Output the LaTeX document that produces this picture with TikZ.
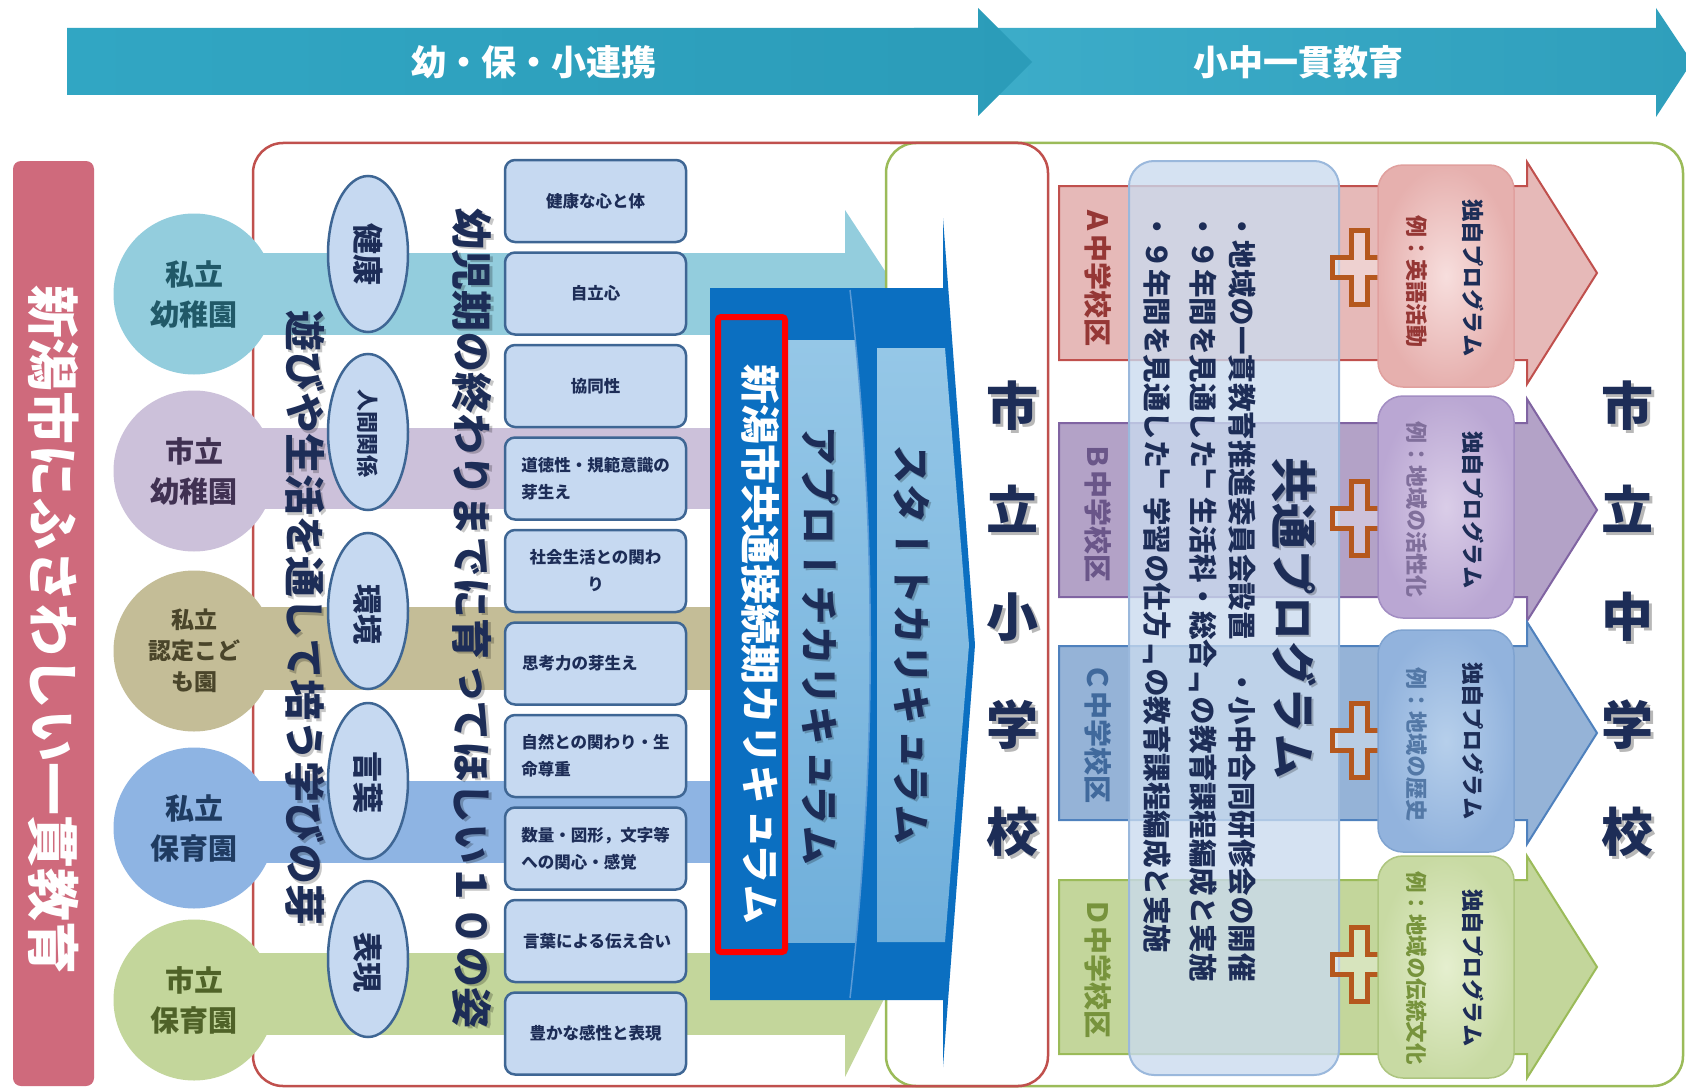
\documentclass[tikz,border=0pt]{standalone}
\usepackage{fontspec}
\setmainfont{Noto Sans CJK JP}
\newfontfamily\vjp{Noto Sans CJK JP}[Vertical=RotatedGlyphs]
\usetikzlibrary{shapes.geometric}
\definecolor{navy}{HTML}{1D2D57}
\definecolor{pinkbar}{HTML}{CF6A7C}
\definecolor{redbox}{HTML}{C0504D}
\definecolor{greenbox}{HTML}{9BBB59}
\definecolor{cteal}{HTML}{93CDDD}
\definecolor{clav}{HTML}{CCC1DA}
\definecolor{ckhaki}{HTML}{C4BD97}
\definecolor{cblue}{HTML}{8EB4E3}
\definecolor{cgreen}{HTML}{C3D69B}
\definecolor{tteal}{HTML}{215968}
\definecolor{tlav}{HTML}{403152}
\definecolor{tkhaki}{HTML}{4A452A}
\definecolor{tblue}{HTML}{1F3B61}
\definecolor{tgreen}{HTML}{4F6228}
\definecolor{tenf}{HTML}{C6D9F1}
\definecolor{tenb}{HTML}{3E6694}
\definecolor{cdblue}{HTML}{0B6FC1}
\definecolor{pantop}{HTML}{95C7E7}
\definecolor{panbot}{HTML}{70AFDB}
\definecolor{divl}{HTML}{5A9AD6}
\definecolor{afill}{HTML}{E6B9B8}
\definecolor{adraw}{HTML}{C0504D}
\definecolor{atext}{HTML}{953735}
\definecolor{bfill}{HTML}{B3A2C7}
\definecolor{bdraw}{HTML}{8064A2}
\definecolor{btext}{HTML}{6A5689}
\definecolor{cfill}{HTML}{95B3D7}
\definecolor{cdraw}{HTML}{4F81BD}
\definecolor{ctext}{HTML}{40699C}
\definecolor{dfill}{HTML}{C3D69B}
\definecolor{ddraw}{HTML}{9BBB59}
\definecolor{dtext}{HTML}{77933C}
\definecolor{plusc}{HTML}{B5581E}
\definecolor{panf}{HTML}{CADBEF}
\definecolor{panb}{HTML}{9AB8DC}
\definecolor{b1a}{HTML}{A8D7E3}
\definecolor{b1b}{HTML}{33A9C6}
\definecolor{b1c}{HTML}{2A9AB7}
\definecolor{b1d}{HTML}{1F7D97}
\definecolor{b2a}{HTML}{45B5D1}
\definecolor{b2b}{HTML}{2C9CB9}
\definecolor{b2c}{HTML}{1F7A93}
\definecolor{pad}{HTML}{E0A09E}
\definecolor{pai}{HTML}{F7DEDD}
\definecolor{pao}{HTML}{E6B0AE}
\definecolor{pbd}{HTML}{A28DC2}
\definecolor{pbi}{HTML}{DACDE8}
\definecolor{pbo}{HTML}{BAA7D3}
\definecolor{pcd}{HTML}{7FA3D0}
\definecolor{pci}{HTML}{B6CFEB}
\definecolor{pco}{HTML}{92B3DD}
\definecolor{pdd}{HTML}{ADC57F}
\definecolor{pdi}{HTML}{E5EFCF}
\definecolor{pdo}{HTML}{C8DAA3}
\pgfdeclarehorizontalshading{banA}{100bp}{color(0bp)=(b1a); color(10bp)=(b1b); color(85bp)=(b1c); color(100bp)=(b1d)}
\pgfdeclarehorizontalshading{banB}{100bp}{color(0bp)=(b2a); color(85bp)=(b2b); color(100bp)=(b2c)}
\begin{document}
\begin{tikzpicture}[x=1pt,y=-1pt,
  vt/.style={rotate=-90,inner sep=0pt,outer sep=0pt},
  vshadow/.style={vt,text=black,opacity=0.22},
  bul/.style={vt,anchor=west,text=navy,font=\vjp\bfseries\fontsize{28.5}{28.5}\selectfont},
  brk/.style={inner sep=0pt,text=navy,font=\bfseries\fontsize{28.5}{28.5}\selectfont},
  circ/.style={circle,minimum size=161pt,inner sep=0pt,align=center,font=\bfseries\fontsize{29}{40}\selectfont},
  tenbox/.style={draw=tenb,line width=2.5pt,fill=tenf,rounded corners=10pt,minimum width=181pt,minimum height=82pt,inner sep=0pt},
  tentext/.style={text=navy,align=left,inner sep=0pt,font=\bfseries\fontsize{16.5}{27}\selectfont},
  ell/.style={ellipse,draw=tenb,line width=2.5pt,fill=tenf,minimum width=80pt,minimum height=156pt,inner sep=0pt},
  bigc/.style={text=navy,inner sep=0pt,font=\bfseries\fontsize{52}{52}\selectfont},
  bigs/.style={text=black,opacity=0.28,inner sep=0pt,font=\bfseries\fontsize{52}{52}\selectfont},
  progbox/.style={rounded corners=25pt,minimum width=136pt,minimum height=222pt,line width=1.5pt},
  plus/.style={draw=plusc,line width=5pt,fill=white,fill opacity=0.35,line join=miter}
]
\useasboundingbox (0,0) rectangle (1686,1089);
\fill[white] (0,0) rectangle (1686,1089);

% top banners
\shade[shading=banB] (914,28) -- (1656,28) -- (1656,8) -- (1692,62) -- (1656,117) -- (1656,95) -- (914,95) -- cycle;
\shade[shading=banA] (67,28) -- (978,28) -- (978,8) -- (1032,62) -- (978,116) -- (978,95) -- (67,95) -- cycle;
\node[text=white,font=\bfseries\fontsize{35}{35}\selectfont] (ban1) at (534,62) {幼・保・小連携};
\node[text=white,font=\bfseries\fontsize{35}{35}\selectfont] (ban2) at (1298,62) {小中一貫教育};

% left bar
\fill[pinkbar,rounded corners=8pt] (13,161) rectangle (94,1086);
\node[vt,text=white,font=\vjp\bfseries\fontsize{53}{53}\selectfont] (lbar) at (54,630) {新潟市にふさわしい一貫教育};

% red box
\draw[redbox,line width=2.5pt,fill=white,rounded corners=30pt] (253,143) rectangle (1048,1086);

% bands
\fill[cteal] (194,253) rectangle (845,335);
\fill[cteal] (845,210) -- (927,335) -- (845,335) -- cycle;
\fill[clav] (194,428) rectangle (845,509);
\fill[ckhaki] (194,607) rectangle (845,690);
\fill[cblue] (194,781) rectangle (845,863);
\fill[cgreen] (194,953) rectangle (845,1035);
\fill[cgreen] (845,1077) -- (907,953) -- (845,953) -- cycle;

% circles
\node[circ,fill=cteal,text=tteal] (k1) at (194,294) {私立\\幼稚園};
\node[circ,fill=clav,text=tlav] (k2) at (194,471) {市立\\幼稚園};
\node[circ,fill=ckhaki,text=tkhaki,font=\bfseries\fontsize{23}{31}\selectfont] (k3) at (194,651) {私立\\認定こど\\も園};
\node[circ,fill=cblue,text=tblue] (k4) at (194,828) {私立\\保育園};
\node[circ,fill=cgreen,text=tgreen] (k5) at (194,1000) {市立\\保育園};

% green box
\draw[greenbox,line width=2.5pt,fill=white,rounded corners=30pt] (886,143) rectangle (1683,1086);
\begin{scope}
\clip (890,130) rectangle (1100,1089);
\draw[redbox,line width=2.5pt,rounded corners=30pt] (253,143) rectangle (1048,1086);
\end{scope}

% blue curriculum block
\fill[cdblue] (710,288) -- (943,288) -- (943,218) -- (975,645) -- (943,1067) -- (943,1000) -- (710,1000) -- cycle;
\begin{scope}
\clip (710,288) -- (850,290) .. controls (877,526) and (877,762) .. (850,998) -- (710,998) -- cycle;
\shade[top color=pantop,bottom color=panbot] (787,340) rectangle (900,942);
\end{scope}
\draw[divl,line width=1.5pt] (850,290) .. controls (877,526) and (877,762) .. (850,998);
\shade[top color=pantop,bottom color=panbot] (877,348) -- (945,348) -- (969,645) -- (945,942) -- (877,942) -- cycle;
\draw[red,line width=6pt,rounded corners=3pt] (718,317) rectangle (785,952);
\node[vt,text=white,font=\vjp\bfseries\fontsize{40}{40}\selectfont] (cur1) at (761,644) {新潟市共通接続期カリキュラム};
\node[vshadow,font=\vjp\bfseries\fontsize{40}{40}\selectfont] (cur2s) at (822,647) {アプローチカリキュラム};
\node[vt,text=navy,font=\vjp\bfseries\fontsize{40}{40}\selectfont] (cur2) at (820,645) {アプローチカリキュラム};
\node[vshadow,font=\vjp\bfseries\fontsize{40}{40}\selectfont] (cur3s) at (914,646) {スタートカリキュラム};
\node[vt,text=navy,font=\vjp\bfseries\fontsize{40}{40}\selectfont] (cur3) at (912,644) {スタートカリキュラム};

% elementary school
\foreach \y/\c [count=\i] in {406/市,509/立,617/小,725/学,832/校}{
  \node[bigs] (ss\i) at (1015,\y+3) {\c};
  \node[bigc] (s\i) at (1012,\y) {\c};
}

% ellipses
\node[ell] (e1) at (368,254) {};
\node[ell] (e2) at (368,432) {};
\node[ell] (e3) at (368,611) {};
\node[ell] (e4) at (368,781) {};
\node[ell] (e5) at (368,959) {};
\node[vt,text=navy,font=\vjp\bfseries\fontsize{31}{31}\selectfont] (et1) at (368,254) {健康};
\node[vt,text=navy,font=\vjp\bfseries\fontsize{22}{22}\selectfont] (et2) at (368,433) {人間関係};
\node[vt,text=navy,font=\vjp\bfseries\fontsize{30}{30}\selectfont] (et3) at (368,614) {環境};
\node[vt,text=navy,font=\vjp\bfseries\fontsize{31}{31}\selectfont] (et4) at (368,782) {言葉};
\node[vt,text=navy,font=\vjp\bfseries\fontsize{30}{30}\selectfont] (et5) at (368,962) {表現};

% big vertical texts
\node[vshadow,font=\vjp\bfseries\fontsize{41}{41}\selectfont] (asobis) at (307.5,620.5) {遊びや生活を通して培う学びの芽};
\node[vt,text=navy,font=\vjp\bfseries\fontsize{41}{41}\selectfont] (asobi) at (305,618) {遊びや生活を通して培う学びの芽};
\node[vshadow,font=\vjp\bfseries\fontsize{41}{41}\selectfont] (sugatas) at (474.5,620.5) {幼児期の終わりまでに育ってほしい１０の姿};
\node[vt,text=navy,font=\vjp\bfseries\fontsize{41}{41}\selectfont] (sugata) at (472,618) {幼児期の終わりまでに育ってほしい１０の姿};

% ten boxes
\node[tenbox] (t1) at (595.5,201) {};
\node[tenbox] (t2) at (595.5,293.5) {};
\node[tenbox] (t3) at (595.5,386) {};
\node[tenbox] (t4) at (595.5,478.5) {};
\node[tenbox] (t5) at (595.5,571) {};
\node[tenbox] (t6) at (595.5,663.5) {};
\node[tenbox] (t7) at (595.5,756) {};
\node[tenbox] (t8) at (595.5,848.5) {};
\node[tenbox] (t9) at (595.5,941) {};
\node[tenbox] (t10) at (595.5,1033.5) {};
\node[tentext] (tt1) at (595.5,201) {健康な心と体};
\node[tentext] (tt2) at (595.5,293.5) {自立心};
\node[tentext] (tt3) at (595.5,386) {協同性};
\node[tentext] (tt4) at (595.5,478.5) {道徳性・規範意識の\\芽生え};
\node[tentext,align=center] (tt5) at (595.5,571) {社会生活との関わ\\り};
\node[tentext,anchor=west] (tt6) at (522,663.5) {思考力の芽生え};
\node[tentext] (tt7) at (595.5,756) {自然との関わり・生\\命尊重};
\node[tentext] (tt8) at (595.5,848.5) {数量・図形，文字等\\への関心・感覚};
\node[tentext] (tt9) at (597,941) {言葉による伝え合い};
\node[tentext] (tt10) at (595.5,1033.5) {豊かな感性と表現};

% junior high arrows
\foreach \cy/\f/\d in {273/afill/adraw,510/bfill/bdraw,733/cfill/cdraw,967/dfill/ddraw}{
  \draw[line width=2pt,draw=\d,fill=\f] (1059,{\cy-87}) -- (1527,{\cy-87}) -- (1527,{\cy-111}) -- (1597,\cy) -- (1527,{\cy+111}) -- (1527,{\cy+87}) -- (1059,{\cy+87}) -- cycle;
}
\node[vt,text=atext,font=\vjp\bfseries\fontsize{28}{28}\selectfont] (la) at (1098,276) {Ａ中学校区};
\node[vt,text=btext,font=\vjp\bfseries\fontsize{28}{28}\selectfont] (lb) at (1098,512) {Ｂ中学校区};
\node[vt,text=ctext,font=\vjp\bfseries\fontsize{28}{28}\selectfont] (lc) at (1098,733) {Ｃ中学校区};
\node[vt,text=dtext,font=\vjp\bfseries\fontsize{28}{28}\selectfont] (ld) at (1098,968) {Ｄ中学校区};

% common program panel
\draw[draw=panb,line width=2pt,fill=panf,fill opacity=0.78,rounded corners=25pt] (1129,161) rectangle (1339,1075);
\node[vshadow,font=\vjp\bfseries\fontsize{46}{46}\selectfont] (kyos) at (1296.5,620.5) {共通プログラム};
\node[vt,text=navy,font=\vjp\bfseries\fontsize{46}{46}\selectfont] (kyo) at (1294,618) {共通プログラム};
\node[bul] (bl1) at (1242,212) {・地域の一貫教育推進委員会設置　・小中合同研修会の開催};
\node[bul] (bl2a) at (1203,212) {・９年間を見通した};
\node[brk] (bl2b) at (1203,482.75) {「};
\node[bul] (bl2c) at (1203,497) {生活科・総合};
\node[brk] (bl2d) at (1203,682.25) {」};
\node[bul] (bl2e) at (1203,696.5) {の教育課程編成と実施};
\node[bul] (bl3a) at (1157,212) {・９年間を見通した};
\node[brk] (bl3b) at (1157,482.75) {「};
\node[bul] (bl3c) at (1157,497) {学習の仕方};
\node[brk] (bl3d) at (1157,653.75) {」};
\node[bul] (bl3e) at (1157,668) {の教育課程編成と実施};

% plus signs
\foreach \py in {267,518,740,964}{
  \draw[plus,shift={(1359,\py)}] (-8,-37) -- (8,-37) -- (8,-10) -- (26.5,-10) -- (26.5,10) -- (8,10) -- (8,37) -- (-8,37) -- (-8,10) -- (-26.5,10) -- (-26.5,-10) -- (-8,-10) -- cycle;
}

% program boxes
\node[progbox,draw=pad,inner color=pai,outer color=pao] (pa) at (1446,276) {};
\node[progbox,draw=pbd,inner color=pbi,outer color=pbo] (pb) at (1446,507) {};
\node[progbox,draw=pcd,inner color=pci,outer color=pco] (pc) at (1446,741) {};
\node[progbox,draw=pdd,inner color=pdi,outer color=pdo] (pd) at (1446,967) {};
\foreach \n/\y in {a/278,b/510,c/741,d/968}{
  \node[vt,text=navy,font=\vjp\bfseries\fontsize{22.5}{22.5}\selectfont] (dp\n) at (1473,\y) {独自プログラム};
}
\node[vt,text=atext,font=\vjp\bfseries\fontsize{22}{22}\selectfont] (ea) at (1417,281) {例：英語活動};
\node[vt,text=btext!85,font=\vjp\bfseries\fontsize{22}{22}\selectfont] (eb) at (1417,509) {例：地域の活性化};
\node[vt,text=ctext!90,font=\vjp\bfseries\fontsize{22}{22}\selectfont] (ec) at (1417,744) {例：地域の歴史};
\node[vt,text=dtext,font=\vjp\bfseries\fontsize{21.5}{21.5}\selectfont] (ed) at (1417,968) {例：地域の伝統文化};

% junior high school
\foreach \y/\c [count=\i] in {406/市,509/立,617/中,725/学,832/校}{
  \node[bigs] (js\i) at (1630,\y+3) {\c};
  \node[bigc] (j\i) at (1627,\y) {\c};
}
\end{tikzpicture}
\end{document}
